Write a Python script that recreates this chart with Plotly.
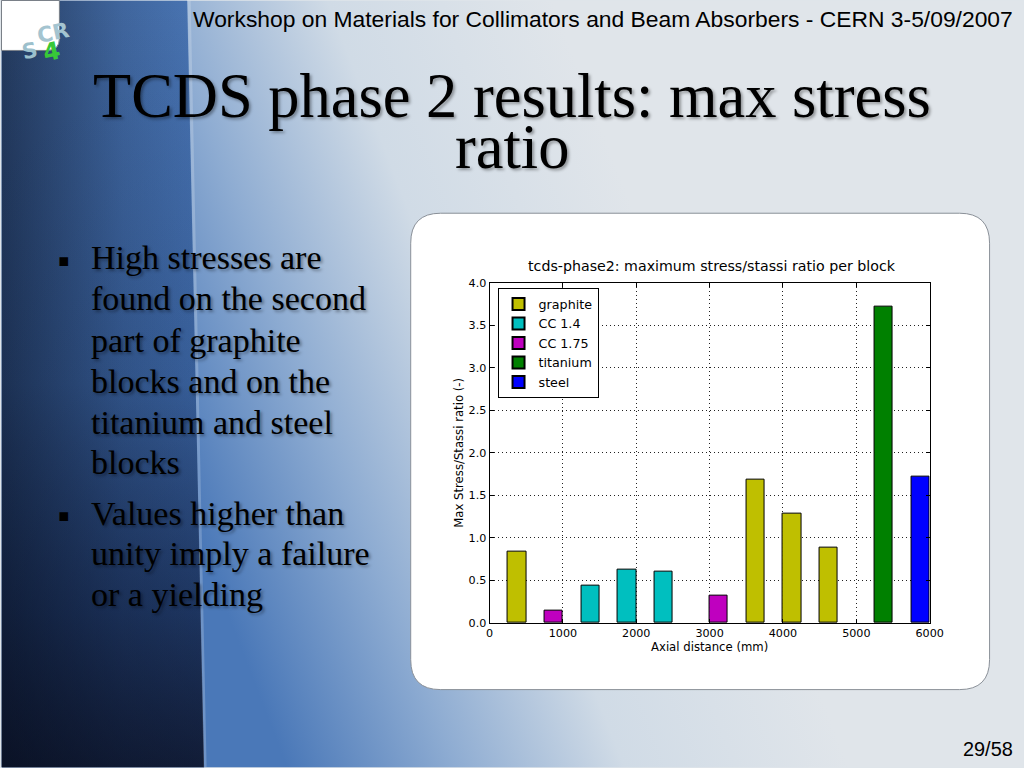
import base64
import plotly.graph_objects as go

# ---------------- data ----------------
block_width = 250  # mm, each block
graphite_start = [250, 3500, 4000, 4500]
graphite_ratio = [0.84, 1.69, 1.28, 0.89]
cc14_start = [1250, 1750, 2250]
cc14_ratio = [0.44, 0.625, 0.60]
cc175_start = [750, 3000]
cc175_ratio = [0.15, 0.32]
titanium_start = [5250]
titanium_ratio = [3.72]
steel_start = [5750]
steel_ratio = [1.72]

series = [
    ("graphite", graphite_start, graphite_ratio, "#bfbf00"),
    ("CC 1.4", cc14_start, cc14_ratio, "#00bfbf"),
    ("CC 1.75", cc175_start, cc175_ratio, "#bf00bf"),
    ("titanium", titanium_start, titanium_ratio, "#008000"),
    ("steel", steel_start, steel_ratio, "#0000ff"),
]

x_ticks = [0, 1000, 2000, 3000, 4000, 5000, 6000]
y_ticks = [0.0, 0.5, 1.0, 1.5, 2.0, 2.5, 3.0, 3.5, 4.0]

slide_title = ["TCDS phase 2 results: max stress", "ratio"]
header_text = "Workshop on Materials for Collimators and Beam Absorbers - CERN 3-5/09/2007"
page_text = "29/58"
bullets = [
    ["High stresses are", "found on the second", "part of graphite",
     "blocks and on the", "titanium and steel", "blocks"],
    ["Values higher than", "unity imply a failure", "or a yielding"],
]
chart_title = "tcds-phase2: maximum stress/stassi ratio per block"

# reference layout space (pixels) and actual figure size
W, H = 1024, 768
FW, FH = 1040, 780
k = FW / W  # pixel size scale
DX, DY = 2.5, 5.5  # page offset compensation


def px(x):
    return (x - DX) / W


def py(y):
    return 1 - (y - DY) / H


def fs(s):
    return s * k


# ---------------- background (svg gradient) ----------------
svg = f'''<svg xmlns="http://www.w3.org/2000/svg" width="{W}" height="{H}" viewBox="0 0 {W} {H}" preserveAspectRatio="none">
<defs>
<linearGradient id="g1" gradientUnits="userSpaceOnUse" x1="190" y1="520" x2="680" y2="330">
<stop offset="0" stop-color="#4a78b8"/>
<stop offset="0.3" stop-color="#8eacd2"/>
<stop offset="0.6" stop-color="#d0dbe6"/>
<stop offset="1" stop-color="#e0e5ea"/>
</linearGradient>
<linearGradient id="g2" gradientUnits="userSpaceOnUse" x1="0" y1="0" x2="0" y2="768">
<stop offset="0" stop-color="#4a76b5"/>
<stop offset="0.5" stop-color="#3d68a8"/>
<stop offset="0.8" stop-color="#284880"/>
<stop offset="1" stop-color="#1b2b50"/>
</linearGradient>
<linearGradient id="g3" x1="0" y1="0" x2="1" y2="0">
<stop offset="0" stop-color="#050a18" stop-opacity="0.55"/>
<stop offset="0.6" stop-color="#050a18" stop-opacity="0.15"/>
<stop offset="1" stop-color="#050a18" stop-opacity="0"/>
</linearGradient>
<linearGradient id="g4" x1="0" y1="0" x2="0" y2="1">
<stop offset="0" stop-color="#050a18" stop-opacity="0"/>
<stop offset="0.5" stop-color="#050a18" stop-opacity="0.1"/>
<stop offset="1" stop-color="#050a18" stop-opacity="0.45"/>
</linearGradient>
</defs>
<rect x="0" y="0" width="{W}" height="{H}" fill="url(#g1)"/>
<polygon points="0,0 186,0 203,768 0,768" fill="url(#g2)"/>
<polygon points="0,0 186,0 203,768 0,768" fill="url(#g3)"/>
<polygon points="0,0 186,0 203,768 0,768" fill="url(#g4)"/>
<line x1="188" y1="0" x2="204" y2="768" stroke="#ffffff" stroke-opacity="0.2" stroke-width="3"/>
</svg>'''
bg_src = "data:image/svg+xml;base64," + base64.b64encode(svg.encode()).decode()

# ---------------- figure ----------------
fig = go.Figure()
for name, starts, vals, color in series:
    fig.add_trace(go.Bar(
        x=starts, y=vals, name=name,
        width=block_width, offset=0,
        marker=dict(color=color, line=dict(color="#000000", width=1)),
    ))

plot_x0, plot_x1 = 489, 930
plot_y0, plot_y1 = 282.5, 623.3

axis_common = dict(
    showline=True, linecolor="#000000", linewidth=1, mirror="ticks",
    ticks="inside", ticklen=4, tickcolor="#000000",
    showgrid=True, gridcolor="#222222", gridwidth=1, griddash="1px,3px",
    zeroline=False,
    tickfont=dict(family="DejaVu Sans", size=fs(11), color="#000000"),
)

fig.update_layout(
    width=FW, height=FH,
    margin=dict(l=0, r=0, t=0, b=0),
    paper_bgcolor="#dfe5ea",
    plot_bgcolor="rgba(0,0,0,0)",
    barmode="overlay",
    bargap=0,
    xaxis=dict(
        domain=[px(plot_x0), px(plot_x1)], range=[0, 6000],
        tickvals=x_ticks, ticktext=[str(v) for v in x_ticks],
        title=dict(text="Axial distance (mm)", standoff=0,
                   font=dict(family="DejaVu Sans", size=fs(11.5), color="#000000")),
        **axis_common,
    ),
    yaxis=dict(
        domain=[py(plot_y1), py(plot_y0)], range=[0, 4],
        tickvals=y_ticks, ticktext=[f"{v:.1f}" for v in y_ticks],
        title=dict(text="Max Stress/Stassi ratio (-)", standoff=2,
                   font=dict(family="DejaVu Sans", size=fs(11.5), color="#000000")),
        **axis_common,
    ),
    legend=dict(
        x=px(497), y=py(288), xanchor="left", yanchor="top",
        bgcolor="#ffffff", bordercolor="#000000", borderwidth=1,
        font=dict(family="DejaVu Sans", size=fs(12.5), color="#000000"),
        tracegroupgap=0, itemsizing="constant",
    ),
    showlegend=True,
)

fig.add_layout_image(dict(
    source=bg_src, xref="paper", yref="paper", x=px(0), y=py(0),
    sizex=1, sizey=1, sizing="stretch", layer="below", xanchor="left", yanchor="top",
))

# white rounded chart panel
bx0, bx1, by0, by1 = px(410), px(990), py(213), py(690)
rx, ry = 30 / W, 30 / H
panel = (f"M {bx0+rx},{by0} L {bx1-rx},{by0} Q {bx1},{by0} {bx1},{by0-ry} "
         f"L {bx1},{by1+ry} Q {bx1},{by1} {bx1-rx},{by1} L {bx0+rx},{by1} "
         f"Q {bx0},{by1} {bx0},{by1+ry} L {bx0},{by0-ry} Q {bx0},{by0} {bx0+rx},{by0} Z")
fig.add_shape(type="path", path=panel, xref="paper", yref="paper",
              fillcolor="#ffffff", line=dict(color="#8a9098", width=1), layer="below")

# logo box
lx0, ly0, lx1, ly1 = px(0), py(0), px(58), py(50)
lr = 12
logo = (f"M {lx0},{ly0} L {lx1},{ly0} L {lx1},{ly1 + lr / H} Q {lx1},{ly1} {lx1 - lr / W},{ly1} "
        f"L {lx0},{ly1} Z")
fig.add_shape(type="path", path=logo, xref="paper", yref="paper",
              fillcolor="#ffffff", line=dict(color="#7a8088", width=1), layer="below")

ann = []
logo_font = "DejaVu Sans"
ann.append(dict(text="<b>CR</b>", x=px(31), y=py(14), xref="paper", yref="paper",
                showarrow=False, font=dict(family=logo_font, size=fs(21), color="#a4c4d0"),
                textangle=-12))
ann.append(dict(text="<b>S</b>", x=px(16), y=py(34), xref="paper", yref="paper",
                showarrow=False, font=dict(family=logo_font, size=fs(21), color="#9cc0cc"),
                textangle=-12))
ann.append(dict(text="<b>4</b>", x=px(36), y=py(33), xref="paper", yref="paper",
                showarrow=False, font=dict(family=logo_font, size=fs(24), color="#38c838"),
                textangle=-12))

# header
ann.append(dict(text=header_text, x=px(1015.5), y=py(19), xref="paper", yref="paper",
                xanchor="right", yanchor="middle", showarrow=False,
                font=dict(family="Liberation Sans", size=fs(22.5), color="#000000")))
# page number
ann.append(dict(text=page_text, x=px(1015.5), y=py(749.5), xref="paper", yref="paper",
                xanchor="right", yanchor="middle", showarrow=False,
                font=dict(family="Liberation Sans", size=fs(19.6), color="#000000")))

# slide title
shadow = "2px 2px 3px rgba(0,0,0,0.35)"
title_centers = [95.5, 146.5]
for line, yc in zip(slide_title, title_centers):
    ann.append(dict(text=line, x=px(511), y=py(yc), xref="paper", yref="paper",
                    xanchor="center", yanchor="middle", showarrow=False,
                    font=dict(family="Liberation Serif", size=fs(61.5), color="#000000",
                              shadow=shadow)))

# bullets
baselines = [[267, 308, 350, 391, 432, 472], [523, 563, 604]]
for blines, bl in zip(bullets, baselines):
    ann.append(dict(text="▪", x=px(63), y=py(bl[0] - 7.5), xref="paper", yref="paper",
                    xanchor="center", yanchor="middle", showarrow=False,
                    font=dict(family="DejaVu Sans", size=fs(17), color="#000000")))
    for line, b in zip(blines, bl):
        ann.append(dict(text=line, x=px(87.5), y=py(b - 9.5), xref="paper", yref="paper",
                        xanchor="left", yanchor="middle", showarrow=False,
                        font=dict(family="Liberation Serif", size=fs(33.5), color="#000000",
                                  shadow=shadow)))

# chart title
ann.append(dict(text=chart_title, x=px(712), y=py(265.5), xref="paper", yref="paper",
                xanchor="center", yanchor="middle", showarrow=False,
                font=dict(family="DejaVu Sans", size=fs(14), color="#000000")))

fig.update_layout(annotations=ann)

page_bg = ("linear-gradient(to right, #4a76b5 0px, #4a76b5 180px, #b8c8d8 260px, "
           "#dfe5ea 520px, #dfe5ea 100%) top left / 100% 10px no-repeat, "
           "linear-gradient(to bottom, #4a76b5, #2a4a80 70%, #0f1a30) top left / 10px 100% no-repeat, "
           "#dfe5ea")
fig.write_html(
    "out.html",
    config={"displayModeBar": False},
    post_script=("document.documentElement.style.margin='0';"
                 "document.body.style.margin='0';document.body.style.padding='0';"
                 f"document.documentElement.style.background='{page_bg}';"),
)
